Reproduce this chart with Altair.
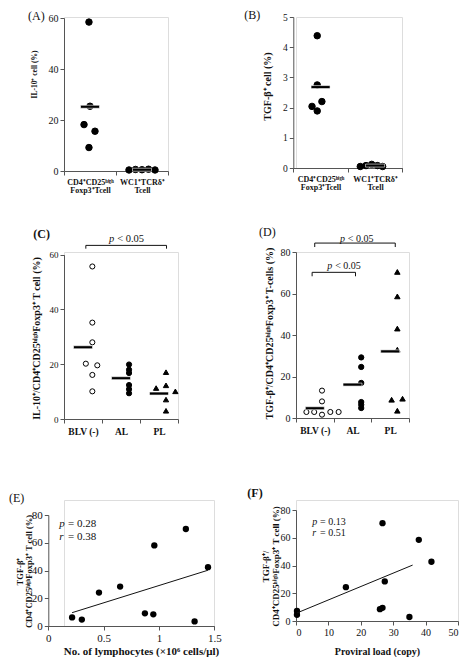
import altair as alt
import pandas as pd

FONT = "Liberation Serif"
INK = "#111111"
AX = "#555555"

# ---------------- (A) IL-10+ cells ----------------
A_CATS = ["CD4⁺CD25ʰⁱᵍʰ|Foxp3⁺Tcell", "WC1⁺TCRδ⁺|Tcell"]
A_TREG = [58.4, 25.4, 18.2, 15.6, 9.2]
A_TREG_JIT = [-0.02, 0.0, -0.115, 0.096, -0.02]
A_GD = [0.4, 0.6, 0.5, 0.7, 0.4]
A_GD_JIT = [-0.25, -0.125, 0.0, 0.125, 0.25]
A_MEAN = [25.2, 0.5]
A_YTICKS = [0, 20, 40, 60]

# ---------------- (B) TGF-beta+ cells ----------------
B_TREG = [4.38, 2.75, 2.04, 1.89, 2.2]
B_TREG_JIT = [-0.04, -0.04, -0.14, -0.04, 0.05]
B_GD = [0.05, 0.08, 0.12, 0.08, 0.05]
B_GD_JIT = [-0.26, -0.15, -0.04, 0.07, 0.17]
B_MEAN = [2.68, 0.08]
B_YTICKS = [0, 1, 2, 3, 4, 5]

# ---------------- (C) IL-10+ Treg by group ----------------
GROUPS = ["BLV (-)", "AL", "PL"]
C_BLV = [55.7, 35.2, 28.0, 20.2, 19.6, 16.1, 10.1]
C_BLV_JIT = [0.045, 0.045, 0.045, -0.08, 0.14, 0.045, 0.045]
C_AL = [19.9, 18.0, 16.8, 12.4, 10.9, 9.4]
C_AL_JIT = [0.02, 0.02, 0.02, 0.02, 0.02, 0.02]
C_PL = [17.1, 12.3, 11.3, 10.1, 7.1, 3.0]
C_PL_JIT = [0.0, 0.0, -0.19, 0.18, 0.0, 0.0]
C_MEAN = [26.2, 14.9, 9.3]
C_YTICKS = [0, 20, 40, 60]
C_BR_CAT = ["BLV (-)", "BLV (-)", "PL", "PL"]
C_BR_JIT = [-0.08, -0.08, 0.01, 0.01]
C_BR_VAL = [62.2, 63.4, 63.4, 62.2]
C_P_CAT = ["AL"]
C_P_JIT = [0.0]
C_P_VAL = [65.8]

# ---------------- (D) TGF-beta+ Treg by group ----------------
D_BLV = [13.2, 8.0, 2.9, 2.9, 1.6, 2.9, 2.9]
D_BLV_JIT = [0.0, 0.0, -0.3, -0.15, 0.0, 0.16, 0.32]
D_AL = [29.2, 24.6, 16.9, 7.7, 6.4, 4.8]
D_AL_JIT = [0.03, 0.03, 0.03, 0.03, 0.03, 0.03]
D_PL = [70.4, 58.6, 43.1, 32.9, 8.8, 9.3, 3.5]
D_PL_JIT = [0.0, 0.0, 0.0, 0.0, -0.11, 0.1, 0.0]
D_MEAN = [4.7, 16.1, 32.1]
D_YTICKS = [0, 20, 40, 60, 80]
D_BR_ID = ["top", "top", "top", "top", "low", "low", "low", "low"]
D_BR_CAT = ["BLV (-)", "BLV (-)", "PL", "PL", "BLV (-)", "BLV (-)", "AL", "AL"]
D_BR_JIT = [-0.14, -0.14, -0.04, -0.04, -0.19, -0.19, -0.08, -0.08]
D_BR_VAL = [82.4, 84.3, 84.3, 82.4, 68.3, 70.2, 70.2, 68.3]
D_P_CAT = ["AL", "BLV (-)"]
D_P_JIT = [-0.06, 0.42]
D_P_VAL = [86.4, 73.4]

# ---------------- (E) vs lymphocytes ----------------
E_X = [0.215, 0.303, 0.458, 0.649, 0.873, 0.949, 0.958, 1.243, 1.322, 1.443]
E_Y = [6.2, 4.6, 24.1, 28.4, 9.1, 8.4, 58.1, 69.9, 3.3, 42.4]
E_FIT_X = [0.215, 1.443]
E_FIT_Y = [9.6, 40.2]
E_XTICKS = [0, 0.5, 1, 1.5]
E_YTICKS = [0, 20, 40, 60, 80]
E_STAT_X = [0.1, 0.1]
E_STAT_Y = [73.2, 64.4]
E_STAT_SYM = ["p", "r"]
E_STAT_TXT = ["= 0.28", "= 0.38"]

# ---------------- (F) vs proviral load ----------------
F_X = [0.3, 0.3, 15.4, 25.9, 26.7, 26.7, 27.4, 35.0, 37.9, 41.8]
F_Y = [7.2, 4.5, 24.4, 8.5, 9.5, 70.5, 28.5, 2.9, 58.5, 42.7]
F_FIT_X = [0.3, 36.0]
F_FIT_Y = [5.8, 40.3]
F_XTICKS = [0, 10, 20, 30, 40, 50]
F_YTICKS = [0, 20, 40, 60, 80]
F_STAT_X = [5.0, 5.0]
F_STAT_Y = [71.7, 63.5]
F_STAT_SYM = ["p", "r"]
F_STAT_TXT = ["= 0.13", "= 0.51"]


def rows(parts):
    out = []
    for cat, vals, jits in parts:
        for v, j in zip(vals, jits):
            out.append({"cat": cat, "val": v, "jit": j})
    return pd.DataFrame(out)


def ptitle(txt, dx, dy, bold=False):
    return alt.TitleParams(text=txt, anchor="start", frame="group", orient="top",
                           offset=0, dx=dx, dy=dy, baseline="top", font=FONT,
                           fontSize=12, fontWeight="bold" if bold else "normal",
                           color=INK)


def yaxis(vals, fs, title, tfs, tx, ty, off=0.0, lh=None):
    kw = dict(values=vals, tickCount=len(vals) + 1, title=title, titleFont=FONT,
              titleFontSize=tfs, titleFontWeight="bold", titleAngle=270, titleX=tx,
              titleY=ty, titleAlign="center", titleBaseline="middle", titleColor=INK,
              labelFont=FONT, labelFontSize=fs, labelColor=INK, labelPadding=2,
              tickSize=4, tickColor=AX, domainColor=AX, grid=False, offset=off,
              labelOverlap=False, labelExpr="'' + datum.value")
    if lh:
        kw["titleLineHeight"] = lh
    return alt.Axis(**kw)


def cat_xaxis(fs, lh):
    return alt.Axis(title=None, labelAngle=0, labelExpr="split(datum.label, '|')",
                    tickBand="extent", tickSize=4, tickColor=AX, domainColor=AX,
                    labelFont=FONT, labelFontWeight="bold", labelFontSize=fs,
                    labelLineHeight=lh, labelColor=INK, labelPadding=3,
                    labelOverlap=False, labelBound=False, grid=False)


def cat_panel(cats, df, means, ydom, yax, xax, xr, yr, w, h, shape_rng, fill_rng,
              size_rng, title, extra_fn=None):
    xs = alt.Scale(domain=cats, range=xr, paddingInner=0, paddingOuter=0)
    ys = alt.Scale(domain=ydom, range=yr, nice=False, zero=False)
    xo = alt.Scale(domain=[-0.5, 0.5])
    X = alt.X("cat:N", scale=xs, sort=cats, axis=xax)
    Y = alt.Y("val:Q", scale=ys, axis=yax)
    pts = alt.Chart(df).mark_point(filled=True, opacity=1, stroke="black",
                                   strokeWidth=1).encode(
        x=X,
        xOffset=alt.XOffset("jit:Q", scale=xo),
        y=Y,
        shape=alt.Shape("cat:N", scale=alt.Scale(domain=cats, range=shape_rng), legend=None),
        fill=alt.Fill("cat:N", scale=alt.Scale(domain=cats, range=fill_rng), legend=None),
        size=alt.Size("cat:N", scale=alt.Scale(domain=cats, range=size_rng), legend=None),
    )
    mdf = pd.DataFrame({"cat": cats, "val": means})
    bars = alt.Chart(mdf).mark_tick(color="black", opacity=1, size=19, thickness=3,
                                    stroke="white", strokeWidth=0.6).encode(x=X, y=Y)
    layers = [pts, bars]
    if extra_fn is not None:
        layers += extra_fn(X, Y, xo)
    return alt.layer(*layers).properties(width=w, height=h, title=title)


def bracket_fn(ids, bcats, bjits, bvals, pcats, pjits, pvals, fs, half):
    def make(X, Y, xo):
        bdf = pd.DataFrame({"id": ids, "cat": bcats, "jit": bjits, "val": bvals,
                            "seq": list(range(len(bcats)))})
        line = alt.Chart(bdf).mark_line(color=INK, strokeWidth=1).encode(
            x=X, xOffset=alt.XOffset("jit:Q", scale=xo), y=Y,
            detail="id:N", order="seq:Q")
        pdf = pd.DataFrame({"cat": pcats, "jit": pjits, "val": pvals})
        enc = dict(x=X, xOffset=alt.XOffset("jit:Q", scale=xo), y=Y)
        p = alt.Chart(pdf).mark_text(text="p", font=FONT, fontSize=fs, fontStyle="italic",
                                     align="left", baseline="middle", dx=-half,
                                     color=INK).encode(**enc)
        rest = alt.Chart(pdf).mark_text(text="< 0.05", font=FONT, fontSize=fs,
                                        align="left", baseline="middle",
                                        dx=-half + 0.78 * fs, color=INK).encode(**enc)
        return [line, p, rest]
    return make


# ---- panel A
dfA = rows([(A_CATS[0], A_TREG, A_TREG_JIT), (A_CATS[1], A_GD, A_GD_JIT)])
pA = cat_panel(A_CATS, dfA, A_MEAN, [0, 60],
               yaxis(A_YTICKS, 10, "IL-10⁺ cell (%)", 7.5, -29.7, 57),
               cat_xaxis(8, 8.5), [0, 104], [154, 1], 104, 154,
               ["circle", "circle"], ["black", "black"], [42, 42],
               ptitle("(A)", -36, 10))

# ---- panel B
dfB = rows([(A_CATS[0], B_TREG, B_TREG_JIT), (A_CATS[1], B_GD, B_GD_JIT)])
pB = cat_panel(A_CATS, dfB, B_MEAN, [0, 5],
               yaxis(B_YTICKS, 9.5, "TGF-β⁺ cell (%)", 10, -26, 69, off=2.7),
               cat_xaxis(8, 8.5), [-2.7, 106.3], [151, 0], 106, 151,
               ["circle", "circle"], ["black", "black"], [42, 42],
               ptitle("(B)", -51.7, 9.5))

# ---- panel C
dfC = rows([(GROUPS[0], C_BLV, C_BLV_JIT), (GROUPS[1], C_AL, C_AL_JIT),
            (GROUPS[2], C_PL, C_PL_JIT)])
pC = cat_panel(GROUPS, dfC, C_MEAN, [0, 60],
               yaxis(C_YTICKS, 9, "IL-10⁺/CD4⁺CD25ʰⁱᵍʰFoxp3⁺ T cell (%)", 10, -28, 86),
               cat_xaxis(9.5, 9), [0, 114], [167, 2.7], 114, 167,
               ["circle", "circle", "triangle-up"], ["white", "black", "black"],
               [26, 28, 40],
               ptitle("(C)", -30.7, 7, bold=True),
               bracket_fn(["b", "b", "b", "b"], C_BR_CAT, C_BR_JIT, C_BR_VAL,
                          C_P_CAT, C_P_JIT, C_P_VAL, 10.5, 19))

# ---- panel D
dfD = rows([(GROUPS[0], D_BLV, D_BLV_JIT), (GROUPS[1], D_AL, D_AL_JIT),
            (GROUPS[2], D_PL, D_PL_JIT)])
pD = cat_panel(GROUPS, dfD, D_MEAN, [0, 80],
               yaxis(D_YTICKS, 10, "TGF-β⁺/CD4⁺CD25ʰⁱᵍʰFoxp3⁺ T-cells (%)", 10, -27, 81),
               cat_xaxis(9.5, 9), [0, 113], [166, 0], 113, 166,
               ["circle", "circle", "triangle-up"], ["white", "black", "black"],
               [26, 30, 42],
               ptitle("(D)", -37, 5),
               bracket_fn(D_BR_ID, D_BR_CAT, D_BR_JIT, D_BR_VAL,
                          D_P_CAT, D_P_JIT, D_P_VAL, 10, 16.5))


def scatter_panel(xs_, ys_, fx, fy, sx, sy, ssym, stxt, xdom, ydom, xticks, yticks,
                  xr, yr, w, h, yax, xtitle, xtfs, xtx, xty, lfs, sfs, title, label_expr,
                  flush=False):
    xs = alt.Scale(domain=xdom, range=xr, nice=False, zero=False)
    ys = alt.Scale(domain=ydom, range=yr, nice=False, zero=False)
    xax_kw = dict(values=xticks, tickCount=len(xticks) + 1, title=xtitle, titleFont=FONT,
                  titleFontSize=xtfs, titleFontWeight="bold", titleColor=INK, titleY=xty,
                  titleBaseline="middle", labelFont=FONT, labelFontSize=lfs,
                  labelColor=INK, labelPadding=2, tickSize=4, tickColor=AX,
                  domainColor=AX, grid=False, labelFlush=flush, labelOverlap=False,
                  labelExpr=label_expr)
    if xtx is not None:
        xax_kw["titleX"] = xtx
    xax = alt.Axis(**xax_kw)
    X = alt.X("x:Q", scale=xs, axis=xax)
    Y = alt.Y("y:Q", scale=ys, axis=yax)
    df = pd.DataFrame({"x": xs_, "y": ys_})
    pts = alt.Chart(df).mark_circle(size=40, color="black", opacity=1).encode(x=X, y=Y)
    fdf = pd.DataFrame({"x": fx, "y": fy})
    fit = alt.Chart(fdf).mark_line(color=INK, strokeWidth=1).encode(x=X, y=Y)
    sdf = pd.DataFrame({"x": sx, "y": sy, "sym": ssym, "txt": stxt})
    sym = alt.Chart(sdf).mark_text(font=FONT, fontSize=sfs, fontStyle="italic",
                                   align="left", baseline="middle", color=INK).encode(
        x=X, y=Y, text="sym:N")
    val = alt.Chart(sdf).mark_text(font=FONT, fontSize=sfs, align="left",
                                   baseline="middle", dx=0.78 * sfs, color=INK).encode(
        x=X, y=Y, text="txt:N")
    return alt.layer(pts, fit, sym, val).properties(width=w, height=h, title=title)


pE = scatter_panel(E_X, E_Y, E_FIT_X, E_FIT_Y, E_STAT_X, E_STAT_Y, E_STAT_SYM, E_STAT_TXT,
                   [0, 1.5], [0, 80], E_XTICKS, E_YTICKS, [-15.7, 150.3], [126, 15], 150, 126,
                   yaxis(E_YTICKS, 11, ["TGF-β⁺", "CD4⁺CD25ʰⁱᵍʰFoxp3⁺ T cell (%)"], 8.5,
                         -29.3, 71, off=15.7, lh=9),
                   "No. of lymphocytes (×10⁶ cells/μl)", 11, 77, 25, 11, 11,
                   ptitle("(E)", -55, 4.7), "'' + datum.value")

pF = scatter_panel(F_X, F_Y, F_FIT_X, F_FIT_Y, F_STAT_X, F_STAT_Y, F_STAT_SYM, F_STAT_TXT,
                   [0, 50], [0, 80], F_XTICKS, F_YTICKS, [0, 162], [121, 10], 162, 121,
                   yaxis(F_YTICKS, 10, ["TGF-β⁺/", "CD4⁺CD25ʰⁱᵍʰFoxp3⁺ T cell (%)"], 9,
                         -31, 66, lh=10),
                   "Proviral load (copy)", 10, None, 30, 10, 10,
                   ptitle("(F)", -48.7, 0, bold=True), "'' + datum.value", flush=True)

chart = alt.concat(pA, pB, pC, pD, pE, pF, columns=2,
                   spacing={"row": 81, "column": 82}).properties(
    bounds="flush", align="each", padding=0
).resolve_scale(shape="independent", fill="independent", size="independent"
).configure_view(stroke=None).configure(font=FONT)

chart.save("out.html", embed_options={"renderer": "svg", "actions": False})
